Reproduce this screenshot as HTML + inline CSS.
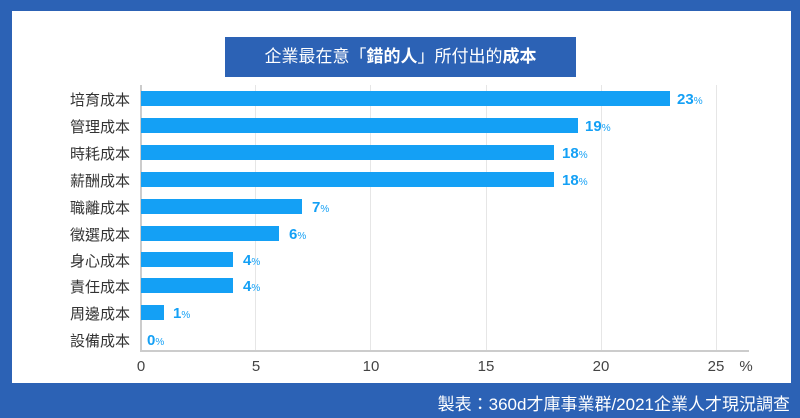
<!DOCTYPE html>
<html><head><meta charset="utf-8"><style>
body{margin:0;width:800px;height:418px;background:#2c62b5;position:relative;overflow:hidden;font-family:"Liberation Sans","Noto Sans CJK TC",sans-serif}
.panel{position:absolute;left:12px;top:11px;width:779px;height:372px;background:#fff}
.title{position:absolute;left:225px;top:37px;width:351px;height:40px;background:#2c62b5;color:#fff;font-size:17px;line-height:40px;text-align:center}
.lab{position:absolute;left:30px;width:100px;text-align:right;font-size:15px;color:#333}
.bar{position:absolute;left:141px;height:15px;background:#14a0f5}
.val{position:absolute;font-size:15px;font-weight:bold;color:#14a0f5}
.val small{font-size:10px;font-weight:normal}
.grid{position:absolute;top:85px;width:1px;height:266px;background:#e6e6e6}
.tick{position:absolute;top:358px;font-size:15px;color:#444;width:30px;margin-left:-15px;text-align:center}
.foot{position:absolute;right:10px;top:390px;color:#fff;font-size:17px}
</style></head><body>
<div class="panel"></div>
<div class="title">企業最在意「<b>錯的人</b>」所付出的<b>成本</b></div>
<div class="grid" style="left:140px;background:#ccc;width:2px"></div>
<div class="grid" style="left:255px"></div>
<div class="grid" style="left:370px"></div>
<div class="grid" style="left:486px"></div>
<div class="grid" style="left:601px"></div>
<div class="grid" style="left:716px"></div>
<div style="position:absolute;left:140px;top:350px;width:609px;height:2px;background:#ccc"></div>
<div class="tick" style="left:141px">0</div>
<div class="tick" style="left:256px">5</div>
<div class="tick" style="left:371px">10</div>
<div class="tick" style="left:486px">15</div>
<div class="tick" style="left:601px">20</div>
<div class="tick" style="left:716px">25</div>
<div class="tick" style="left:746px">%</div>

<div class="lab" style="top:89px">培育成本</div><div class="bar" style="top:91px;width:529px"></div><div class="val" style="top:91px;left:677px">23<small>%</small></div>
<div class="lab" style="top:116px">管理成本</div><div class="bar" style="top:118px;width:437px"></div><div class="val" style="top:118px;left:585px">19<small>%</small></div>
<div class="lab" style="top:143px">時耗成本</div><div class="bar" style="top:145px;width:413px"></div><div class="val" style="top:145px;left:562px">18<small>%</small></div>
<div class="lab" style="top:170px">薪酬成本</div><div class="bar" style="top:172px;width:413px"></div><div class="val" style="top:172px;left:562px">18<small>%</small></div>
<div class="lab" style="top:197px">職離成本</div><div class="bar" style="top:199px;width:161px"></div><div class="val" style="top:199px;left:312px">7<small>%</small></div>
<div class="lab" style="top:224px">徵選成本</div><div class="bar" style="top:226px;width:138px"></div><div class="val" style="top:226px;left:289px">6<small>%</small></div>
<div class="lab" style="top:250px">身心成本</div><div class="bar" style="top:252px;width:92px"></div><div class="val" style="top:252px;left:243px">4<small>%</small></div>
<div class="lab" style="top:276px">責任成本</div><div class="bar" style="top:278px;width:92px"></div><div class="val" style="top:278px;left:243px">4<small>%</small></div>
<div class="lab" style="top:303px">周邊成本</div><div class="bar" style="top:305px;width:23px"></div><div class="val" style="top:305px;left:173px">1<small>%</small></div>
<div class="lab" style="top:330px">設備成本</div><div class="val" style="top:332px;left:147px">0<small>%</small></div>
<div class="foot">製表：360d才庫事業群/2021企業人才現況調查</div>
</body></html>
